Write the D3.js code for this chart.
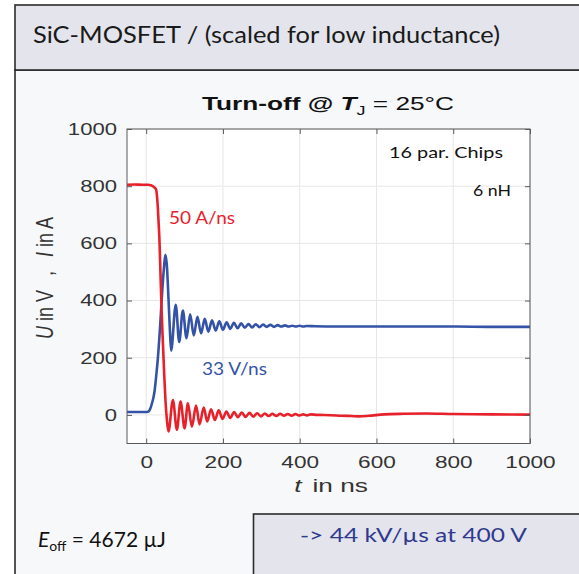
<!DOCTYPE html>
<html>
<head>
<meta charset="utf-8">
<script src="https://cdn.jsdelivr.net/npm/d3@7"></script>
<style>
  html, body { margin: 0; padding: 0; background: #ffffff; }
  svg { display: block; }
  /* the figure's lettering is set slightly extended */
  .wide  { transform-box: fill-box; transform-origin: center; transform: scaleX(1.33); }
  .wideT { transform-box: fill-box; transform-origin: center; transform: scaleX(1.38); }
  .wideR { transform-box: fill-box; transform-origin: right center; transform: scaleX(1.3); }
</style>
</head>
<body>
<svg id="chart" width="579" height="574"></svg>
<script>
// ---- data -------------------------------------------------------------
const xTicks = [0, 200, 400, 600, 800, 1000];
const yTicks = [0, 200, 400, 600, 800, 1000];

// drain current I (A) during turn-off
const currentTime = [-50, -30, -10, 5, 12, 17, 22, 26, 28.5, 30.4, 32.5, 34.7, 37.3, 40, 43.4, 47, 50.4, 54, 58,
  69.6, 80, 89.5, 100, 108.7, 119, 130, 139, 150, 159, 169, 179, 189, 199, 209, 219, 229, 239, 249, 259,
  269, 279, 289, 299, 309, 319, 329, 339, 349, 359, 369, 379, 389, 399, 409, 419, 429, 445, 480, 510,
  535, 555, 580, 620, 670, 730, 800, 900, 1000];
const currentAmps = [805, 806, 805, 805, 803, 800, 795, 787, 760, 723, 670, 606, 490, 373, 256, 140, 47, -17, -58,
  52, -52, 47, -47, 41, -41, 33, -33, 26, -23, 20, -18, 16, -14, 12, -11, 10, -8, 8, -7,
  7, -6, 6, -5, 5, -4, 4, -4, 4, -3, 3, -3, 3, -2, 2, -2, 2, 0, -1, -3,
  -4, -5, -3, 2, 4, 5, 3, 2, 1];

// drain-source voltage U (V) during turn-off
const voltageTime = [-50, -20, 0, 5, 9, 15, 21.6, 26, 30.4, 36.5, 41.7, 46, 50, 54, 58, 62, 65,
  77, 86, 95.5, 105, 114.5, 124, 133.5, 143, 152.5, 162, 171.5, 181, 190.5, 200, 209.5, 219,
  228.5, 238, 247.5, 257, 266.5, 276, 285.5, 295, 304.5, 314, 323.5, 333, 342.5, 352, 361.5,
  371, 380.5, 390, 399.5, 409, 418.5, 440, 500, 600, 700, 800, 900, 1000];
const voltageVolts = [10, 10, 10, 11, 17, 40, 81, 135, 198, 315, 431, 510, 560, 520, 410, 290, 225,
  385, 255, 365, 268, 352, 278, 343, 285, 336, 291, 331, 295, 327, 298, 324, 301,
  322, 303, 320, 305, 318, 306, 317, 307, 316, 308, 315, 308, 314, 309, 313,
  309, 312, 309, 312, 309, 311, 310, 309, 309, 309, 309, 308, 308];

// ---- layout -----------------------------------------------------------
const svg = d3.select("#chart");
const plot = { left: 127, right: 530, top: 129, bottom: 443.5 };

const x = d3.scaleLinear().domain([-50, 1000]).range([plot.left, plot.right]);
const y = d3.scaleLinear().domain([-100, 1000]).range([plot.bottom, plot.top]);

// slide frame: header band and body
svg.append("rect").attr("x", 15).attr("y", 70).attr("width", 600).attr("height", 540)
  .attr("fill", "#f7f8fa").attr("stroke", "#2b2b2b").attr("stroke-width", 1.6);
svg.append("rect").attr("x", 15).attr("y", 5).attr("width", 600).attr("height", 65)
  .attr("fill", "#e4e5ec").attr("stroke", "#2b2b2b").attr("stroke-width", 1.6);
svg.append("text").attr("x", 33).attr("y", 43)
  .attr("font-family", "Lato, 'Open Sans', sans-serif").attr("font-size", 23)
  .attr("fill", "#1a1a1a").attr("textLength", 467).attr("lengthAdjust", "spacingAndGlyphs")
  .text("SiC-MOSFET / (scaled for low inductance)");

// plot area
svg.append("rect").attr("x", plot.left).attr("y", plot.top)
  .attr("width", plot.right - plot.left).attr("height", plot.bottom - plot.top)
  .attr("fill", "#ffffff");

// grid
const grid = svg.append("g").attr("stroke", "#e6e6e6").attr("stroke-width", 1);
grid.selectAll("line.gx").data(xTicks).join("line")
  .attr("x1", d => x(d)).attr("x2", d => x(d)).attr("y1", plot.top).attr("y2", plot.bottom);
grid.selectAll("line.gy").data(yTicks).join("line")
  .attr("x1", plot.left).attr("x2", plot.right).attr("y1", d => y(d)).attr("y2", d => y(d));

// traces
svg.append("clipPath").attr("id", "clip").append("rect")
  .attr("x", plot.left).attr("y", plot.top)
  .attr("width", plot.right - plot.left).attr("height", plot.bottom - plot.top);

const line = d3.line().x(d => x(d[0])).y(d => y(d[1])).curve(d3.curveMonotoneX);
const voltage = voltageTime.map((t, i) => [t, voltageVolts[i]]);
const current = currentTime.map((t, i) => [t, currentAmps[i]]);

const traces = svg.append("g").attr("clip-path", "url(#clip)");
traces.append("path").datum(voltage).attr("d", line)
  .attr("fill", "none").attr("stroke", "#3453a6").attr("stroke-width", 2.6).attr("stroke-linejoin", "round");
traces.append("path").datum(current).attr("d", line)
  .attr("fill", "none").attr("stroke", "#e8202a").attr("stroke-width", 2.6).attr("stroke-linejoin", "round");

// axes (ticks pointing inward, boxed)
const axisColor = "#5a5a5a";
function styleAxis(g) {
  g.select(".domain").remove();
  g.selectAll(".tick line").attr("stroke", axisColor);
  g.selectAll(".tick text").attr("fill", "#333333")
    .attr("font-family", "'Liberation Sans', Arial, sans-serif").attr("font-size", 17);
}
svg.append("g").attr("transform", `translate(0,${plot.bottom})`)
  .call(d3.axisBottom(x).tickValues(xTicks).tickFormat(d3.format("d")).tickSize(-5).tickPadding(12))
  .call(styleAxis)
  .call(g => g.selectAll(".tick text").attr("class", "wide"));
svg.append("g").attr("transform", `translate(0,${plot.top})`)
  .call(d3.axisTop(x).tickValues(xTicks).tickSize(-5).tickFormat(""))
  .call(styleAxis);
svg.append("g").attr("transform", `translate(${plot.left},0)`)
  .call(d3.axisLeft(y).tickValues(yTicks).tickFormat(d3.format("d")).tickSize(-5).tickPadding(10))
  .call(styleAxis)
  .call(g => g.selectAll(".tick text").attr("class", "wideR"));
svg.append("g").attr("transform", `translate(${plot.right},0)`)
  .call(d3.axisRight(y).tickValues(yTicks).tickSize(-5).tickFormat(""))
  .call(styleAxis);

svg.append("rect").attr("x", plot.left).attr("y", plot.top)
  .attr("width", plot.right - plot.left).attr("height", plot.bottom - plot.top)
  .attr("fill", "none").attr("stroke", axisColor).attr("stroke-width", 1);

// title
const title = svg.append("text").attr("x", 328).attr("y", 110).attr("text-anchor", "middle")
  .attr("class", "wideT").attr("font-family", "'Liberation Sans', Arial, sans-serif")
  .attr("font-size", 19).attr("fill", "#111111");
title.append("tspan").attr("font-weight", "bold").text("Turn-off @ ");
title.append("tspan").attr("font-weight", "bold").attr("font-style", "italic").text("T");
title.append("tspan").attr("font-size", 13).attr("dy", 5).text("J");
title.append("tspan").attr("dy", -5).text(" = 25°C");

// axis labels
const xl = svg.append("text").attr("x", 331).attr("y", 492).attr("text-anchor", "middle")
  .attr("class", "wideT").attr("font-family", "'Liberation Sans', Arial, sans-serif")
  .attr("font-size", 19).attr("fill", "#333333");
xl.append("tspan").attr("font-style", "italic").text("t");
xl.append("tspan").attr("dx", 8).text("in ns");

const yl = svg.append("text").attr("transform", "translate(53,278) rotate(-90) scale(1,1.3)")
  .attr("text-anchor", "middle").attr("font-family", "'Liberation Sans', Arial, sans-serif")
  .attr("font-size", 18).attr("fill", "#333333");
yl.append("tspan").attr("font-style", "italic").text("U");
yl.append("tspan").text(" in V");
yl.append("tspan").attr("dx", 14).text(",");
yl.append("tspan").attr("dx", 14).attr("font-style", "italic").text("I");
yl.append("tspan").text(" in A");

// annotations
const note = "Lato, 'Open Sans', sans-serif";
svg.append("text").attr("x", 389).attr("y", 158).attr("font-family", note).attr("font-size", 16)
  .attr("fill", "#111111").attr("textLength", 114).attr("lengthAdjust", "spacingAndGlyphs").text("16 par. Chips");
svg.append("text").attr("x", 473).attr("y", 196).attr("font-family", note).attr("font-size", 16)
  .attr("fill", "#111111").attr("textLength", 38).attr("lengthAdjust", "spacingAndGlyphs").text("6 nH");
svg.append("text").attr("x", 169).attr("y", 224).attr("font-family", note).attr("font-size", 17)
  .attr("fill", "#e8202a").attr("textLength", 66).attr("lengthAdjust", "spacingAndGlyphs").text("50 A/ns");
svg.append("text").attr("x", 202).attr("y", 375).attr("font-family", note).attr("font-size", 17)
  .attr("fill", "#3453a6").attr("textLength", 65).attr("lengthAdjust", "spacingAndGlyphs").text("33 V/ns");

// footer: switching energy and slope box
const eoff = svg.append("text").attr("x", 38).attr("y", 547).attr("font-family", note)
  .attr("font-size", 21).attr("fill", "#111111");
eoff.append("tspan").attr("font-style", "italic").text("E");
eoff.append("tspan").attr("font-size", 14).attr("dy", 4).text("off");
eoff.append("tspan").attr("dy", -4).text(" = 4672 µJ");

svg.append("rect").attr("x", 253.5).attr("y", 514).attr("width", 400).attr("height", 100)
  .attr("fill", "#e4e5ec").attr("stroke", "#2b2b2b").attr("stroke-width", 1.6);
svg.append("text").attr("x", 300).attr("y", 542).attr("font-family", note).attr("font-size", 20)
  .attr("fill", "#2f3a8f").attr("textLength", 227).attr("lengthAdjust", "spacingAndGlyphs")
  .text("-> 44 kV/µs at 400 V");
</script>
</body>
</html>
